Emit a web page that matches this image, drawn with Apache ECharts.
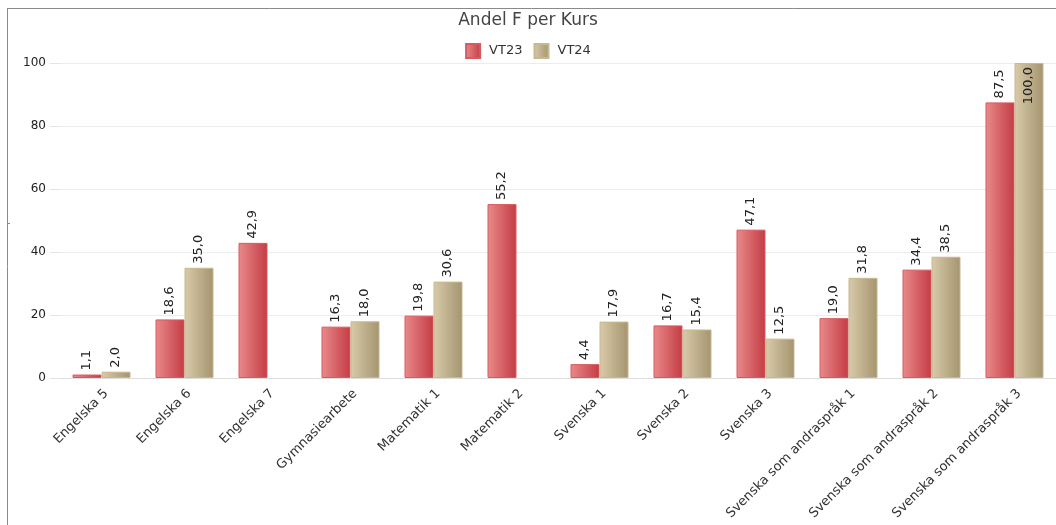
<!DOCTYPE html>
<html><head><meta charset="utf-8">
<script src="https://cdn.jsdelivr.net/npm/echarts@6/dist/echarts.min.js"></script>
<style>html,body{margin:0;padding:0;background:#fff}#c{width:1056px;height:525px}</style>
</head><body><div id="c"></div>
<script>
const categories = ["Engelska 5","Engelska 6","Engelska 7","Gymnasiearbete","Matematik 1","Matematik 2","Svenska 1","Svenska 2","Svenska 3","Svenska som andraspråk 1","Svenska som andraspråk 2","Svenska som andraspråk 3"];
const vt23 = [1.1,18.6,42.9,16.3,19.8,55.2,4.4,16.7,47.1,19.0,34.4,87.5];
const vt24 = [2.0,35.0,null,18.0,30.6,null,17.9,15.4,12.5,31.8,38.5,100.0];
const yTicks = [0,20,40,60,80,100];

const FONT = "DejaVu Sans";
function grad(a,b){return new echarts.graphic.LinearGradient(0,0,1,0,[{offset:0,color:a},{offset:1,color:b}]);}
const redFill = grad('#e88a8a','#c43c44');
const tanFill = grad('#d9cba9','#a4946f');
const fmt = p => p.value==null ? '' : p.value.toFixed(1).replace('.',',');
function lab(){return {show:true,position:'top',rotate:90,distance:4,align:'left',verticalAlign:'middle',fontFamily:FONT,fontSize:13,color:'#222',formatter:fmt};}
function toData(arr){return arr.map(v => v>=99 ? {value:v,label:{position:'insideTop',align:'right',distance:4}} : v);}

const chart = echarts.init(document.getElementById('c'));
chart.setOption({
  animation:false,
  backgroundColor:'#fff',
  title:{text:'Andel F per Kurs',left:'center',top:7,textStyle:{fontFamily:FONT,fontSize:17,fontWeight:'normal',color:'#444'}},
  legend:{top:38,left:'center',icon:'rect',itemWidth:14,itemHeight:14,itemGap:11,
    textStyle:{fontFamily:FONT,fontSize:13,color:'#333',padding:[0,0,0,4]},data:['VT23','VT24']},
  grid:{left:60,right:-1,top:63,bottom:147,containLabel:false},
  xAxis:{type:'category',data:categories,
    axisLine:{lineStyle:{color:'#ddd'}},axisTick:{show:false},
    axisLabel:{rotate:45,interval:0,margin:9,align:'right',verticalAlign:'top',fontFamily:FONT,fontSize:13,color:'#333'}},
  yAxis:{type:'value',min:0,max:100,interval:20,
    axisLine:{show:false},axisTick:{show:true,length:10,lineStyle:{color:'#e4e4e4'}},
    splitLine:{lineStyle:{color:'#ececec'}},
    axisLabel:{margin:14,fontFamily:FONT,fontSize:12,color:'#222',formatter:v=>yTicks.includes(v)?String(v):''}},
  series:[
    {name:'VT23',type:'bar',data:toData(vt23),barWidth:29,barGap:'0%',
      itemStyle:{color:redFill,borderColor:'#d85a60',borderWidth:1},label:lab()},
    {name:'VT24',type:'bar',data:toData(vt24),barWidth:29,
      itemStyle:{color:tanFill,borderColor:'#c8b890',borderWidth:1},label:lab()}
  ],
  graphic:[
    {type:'line',shape:{x1:7.5,y1:8,x2:7.5,y2:525},style:{stroke:'#8a8a8a',lineWidth:1}},
    {type:'line',shape:{x1:7,y1:8.5,x2:1056,y2:8.5},style:{stroke:'#8a8a8a',lineWidth:1}},
    {type:'line',shape:{x1:7,y1:223.5,x2:10,y2:223.5},style:{stroke:'#8a8a8a',lineWidth:1}}
  ]
});
</script></body></html>
